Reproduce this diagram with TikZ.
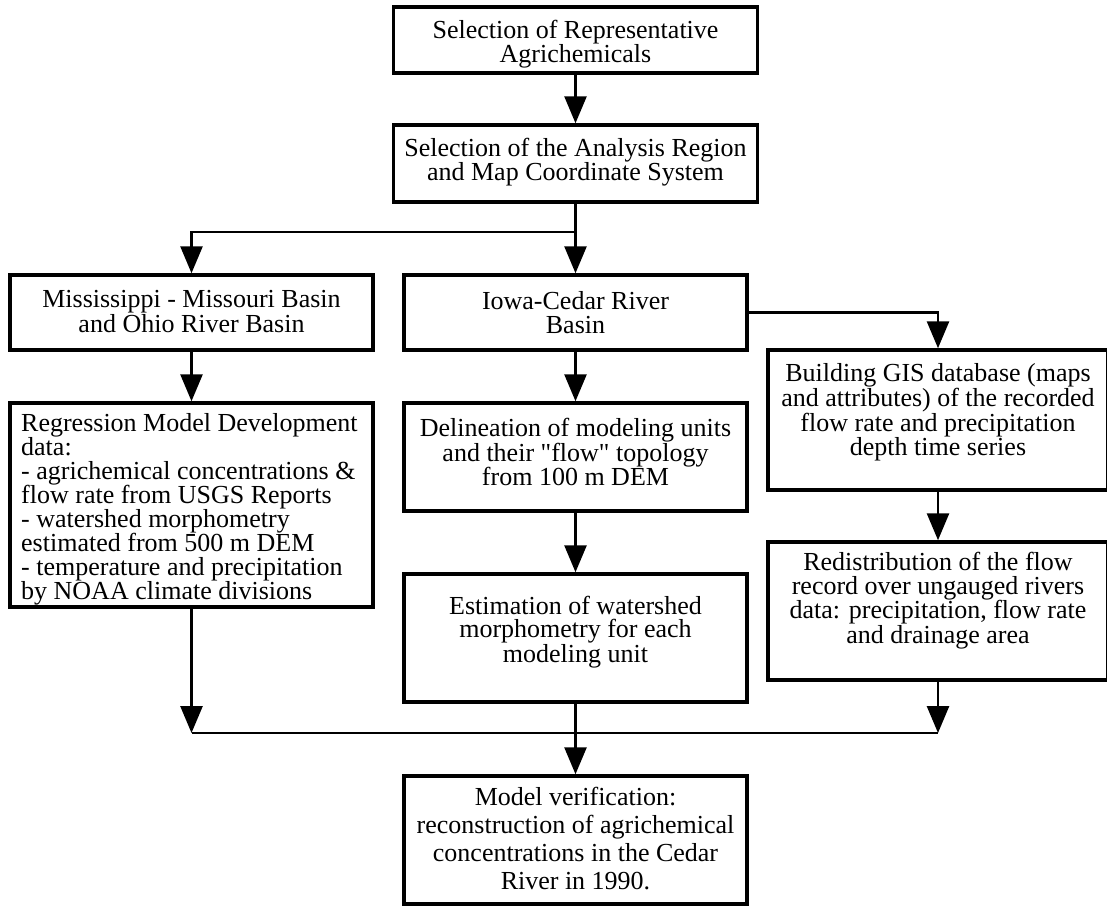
\documentclass[tikz,border=0pt]{standalone}
\usepackage{fontspec}
\setmainfont{Liberation Serif}
\newfontfamily\qfont{Liberation Serif}
\newcommand{\sq}{{\qfont"}}
\usetikzlibrary{arrows.meta}
\begin{document}
\begin{tikzpicture}[x=1pt,y=-1pt,
  box/.style={draw=black, line width=3.5pt, rectangle, inner sep=0pt},
  txt/.style={align=center, inner sep=0pt, font=\fontsize{26}{23.5}\selectfont},
  conn/.style={line width=2.7pt},
  arr/.style={conn, -{Triangle[width=22pt,length=27pt]}}]
\useasboundingbox (0,0) rectangle (1107,911);
% boxes
\node[box, minimum width=364pt, minimum height=66pt] (top) at (575.5,40) {};
\node[box, minimum width=364pt, minimum height=77pt] (sel) at (575.5,163.5) {};
\node[box, minimum width=363pt, minimum height=75pt] (miss) at (191.5,312.5) {};
\node[box, minimum width=343pt, minimum height=75pt] (iowa) at (575.5,312.5) {};
\node[box, minimum width=340pt, minimum height=140pt] (gis) at (938,420) {};
\node[box, minimum width=363pt, minimum height=204pt] (regr) at (191.5,505) {};
\node[box, minimum width=343pt, minimum height=108pt] (deli) at (575.5,457) {};
\node[box, minimum width=343pt, minimum height=128pt] (esti) at (575.5,638) {};
\node[box, minimum width=340pt, minimum height=138pt] (redi) at (938,611) {};
\node[box, minimum width=343pt, minimum height=128pt] (verif) at (575.5,840) {};
% texts
\node[txt] (topt) at (575.5,44) {Selection of Representative\\Agrichemicals};
\node[txt] (selt) at (575.5,162) {Selection of the Analysis Region\\and Map Coordinate System};
\node[txt] (misst) at (191.5,311.5) {Mississippi - Missouri Basin\\and Ohio River Basin};
\node[txt] (iowat) at (575.5,312.5) {Iowa-Cedar River\\Basin};
\node[txt, anchor=north] (gist) at (938,363) {Building GIS database (maps\\and attributes) of the recorded\\flow rate and precipitation\\depth time series};
\node[txt, align=left, anchor=west, font=\fontsize{26}{24}\selectfont] (regrt) at (21,509) {Regression Model Development\\data:\\- agrichemical concentrations \&\\flow rate from USGS Reports\\- watershed morphometry\\estimated from 500 m DEM\\- temperature and precipitation\\by NOAA climate divisions};
\node[txt] (delit) at (575.5,452) {Delineation of modeling units\\and their \sq flow\sq{} topology\\from 100 m DEM};
\node[txt] (estit) at (575.5,632) {Estimation of watershed\\morphometry for each\\modeling unit};
\node[txt, anchor=north] (redit) at (938,552) {Redistribution of the flow\\record over ungauged rivers\\data: precipitation, flow rate\\and drainage area};
\node[txt, font=\fontsize{26}{28}\selectfont] (verift) at (575.5,839) {Model verification:\\reconstruction of agrichemical\\concentrations in the Cedar\\River in 1990.};
% connectors
\coordinate (split) at (575.5,232);
\coordinate (jl) at (191.5,733);
\coordinate (jr) at (938,733);
\draw[arr] (top.south) -- (sel.north);
\draw[arr] (sel.south) -- (iowa.north);
\draw[arr] (split) -| (miss.north);
\draw[arr] (iowa.east) -| (gis.north);
\draw[arr] (miss.south) -- (regr.north);
\draw[arr] (iowa.south) -- (deli.north);
\draw[arr] (deli.south) -- (esti.north);
\draw[arr] (gis.south) -- (redi.north);
\draw[arr] (regr.south) -- (jl);
\draw[arr] (redi.south) -- (jr);
\draw[conn] (jl) -- (jr);
\draw[arr] (esti.south) -- (verif.north);
\end{tikzpicture}
\end{document}
